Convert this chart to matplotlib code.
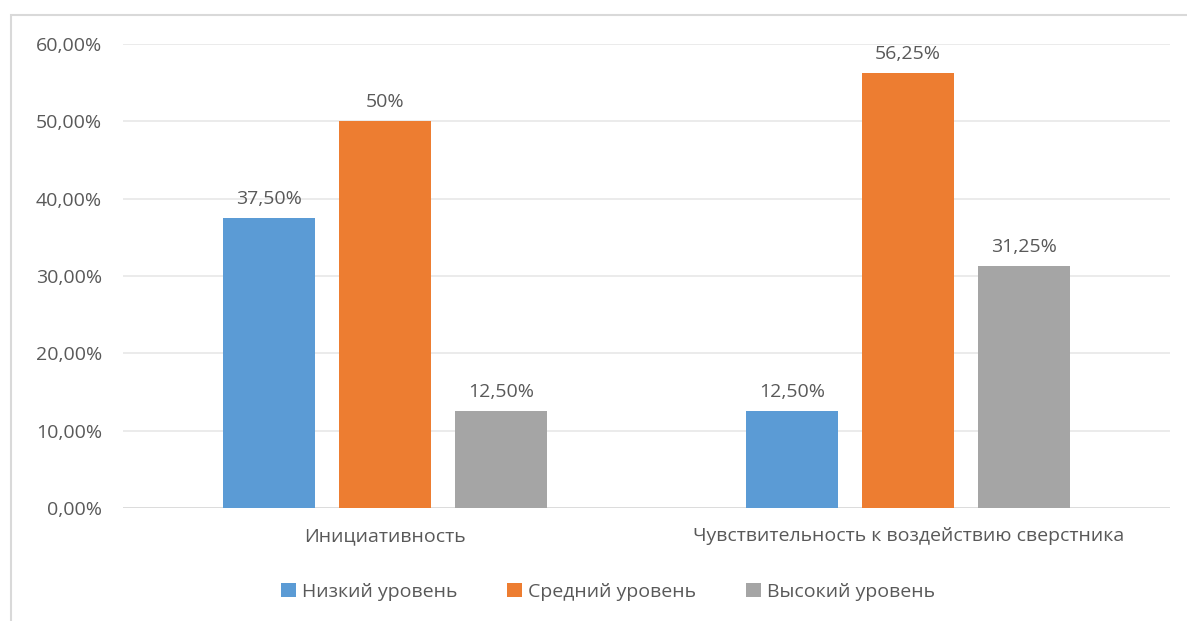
import matplotlib
matplotlib.use("Agg")
import matplotlib.pyplot as plt
from matplotlib.patches import Rectangle
import numpy as np

categories = ["Инициативность", "Чувствительность к воздействию сверстника"]
series_names = ["Низкий уровень", "Средний уровень", "Высокий уровень"]
values = {
    "Низкий уровень": [37.5, 12.5],
    "Средний уровень": [50.0, 56.25],
    "Высокий уровень": [12.5, 31.25],
}
labels = {
    "Низкий уровень": ["37,50%", "12,50%"],
    "Средний уровень": ["50%", "56,25%"],
    "Высокий уровень": ["12,50%", "31,25%"],
}
yticks = [0, 10, 20, 30, 40, 50, 60]
ytick_labels = ["0,00%", "10,00%", "20,00%", "30,00%", "40,00%", "50,00%", "60,00%"]
colors = ["#5B9BD5", "#ED7D31", "#A5A5A5"]

plt.rcParams['font.family'] = ['Open Sans', 'DejaVu Sans']
txt = "#595959"
fs = 14

fig = plt.figure(figsize=(11.87, 6.21), dpi=100)
fig.patches.append(Rectangle((11/1187, -0.1), 1.2, 1 - 15/621 + 0.1, transform=fig.transFigure,
                             fill=False, edgecolor="#D9D9D9", linewidth=1.5))
ax = fig.add_axes([123/1187, 1 - 508/621, (1170 - 123)/1187, (508 - 44)/621])

x = np.arange(len(categories))
width = 0.176
step = 0.2216
for i, name in enumerate(series_names):
    pos = x + (i - 1) * step
    ax.bar(pos, values[name], width=width, color=colors[i], label=name, zorder=3)
    for p, v, l in zip(pos, values[name], labels[name]):
        ax.text(p, v + 1.3, l, ha="center", va="bottom", fontsize=fs, color=txt)

ax.set_xlim(-0.5, 1.5)
ax.set_ylim(0, 60)
ax.set_yticks(yticks)
ax.set_yticklabels(ytick_labels, fontsize=fs, color=txt)
ax.set_xticks(x)
ax.set_xticklabels(categories, fontsize=fs, color=txt)
ax.tick_params(axis="x", length=0, pad=14)
ax.tick_params(axis="y", length=0, pad=15)
ax.grid(axis="y", color="#E7E7E7", linewidth=1.2, zorder=0)
for s in ax.spines.values():
    s.set_visible(False)
ax.axhline(0, color="#D9D9D9", linewidth=1.2, zorder=2)

leg = fig.legend(loc="center", bbox_to_anchor=(608/1187, 1 - 592/621), ncol=3, frameon=False,
                 fontsize=fs, handlelength=0.75, handleheight=0.75, handletextpad=0.3,
                 columnspacing=2.6)
for t in leg.get_texts():
    t.set_color(txt)

fig.savefig("out.png", dpi=100)
